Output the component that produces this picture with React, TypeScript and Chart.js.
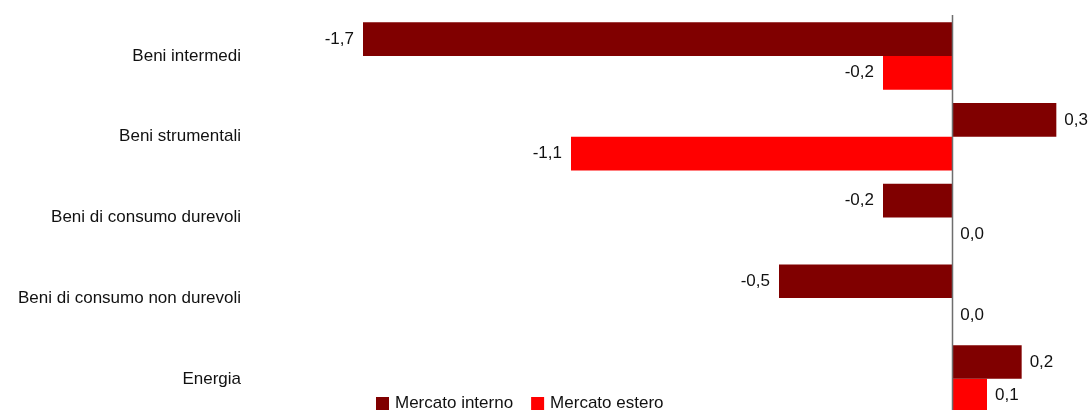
import React, { useEffect, useRef } from "react";
import { Chart, registerables } from "chart.js";

Chart.register(...registerables);

const categories = [
  "Beni intermedi",
  "Beni strumentali",
  "Beni di consumo durevoli",
  "Beni di consumo non durevoli",
  "Energia",
];
const mercatoInterno = [-1.7, 0.3, -0.2, -0.5, 0.2];
const mercatoEstero = [-0.2, -1.1, 0.0, 0.0, 0.1];
const seriesNames = ["Mercato interno", "Mercato estero"];
const seriesColors = ["#800000", "#FF0000"];
const xMin = -2.0;
const xMax = 0.4;

const FONT = '"Liberation Sans", Arial, sans-serif';

const zeroLinePlugin = {
  id: "zeroLine",
  afterDatasetsDraw(chart: any) {
    const { ctx, chartArea, scales } = chart;
    const x = Math.round(scales.x.getPixelForValue(0)) + 0.5;
    ctx.save();
    ctx.strokeStyle = "#6e6e6e";
    ctx.lineWidth = 1.5;
    ctx.beginPath();
    ctx.moveTo(x, chartArea.top - 0.5);
    ctx.lineTo(x, chartArea.bottom);
    ctx.stroke();
    ctx.restore();
  },
};

const valueLabelPlugin = {
  id: "valueLabels",
  afterDatasetsDraw(chart: any) {
    const { ctx } = chart;
    ctx.save();
    ctx.font = `17px ${FONT}`;
    ctx.fillStyle = "#111111";
    ctx.textBaseline = "middle";
    chart.data.datasets.forEach((ds: any, di: number) => {
      const meta = chart.getDatasetMeta(di);
      meta.data.forEach((el: any, i: number) => {
        const v = ds.data[i] as number;
        const txt = v.toFixed(1).replace(".", ",");
        if (v < 0) {
          ctx.textAlign = "right";
          ctx.fillText(txt, el.x - 9, el.y);
        } else {
          ctx.textAlign = "left";
          ctx.fillText(txt, el.x + 8, el.y);
        }
      });
    });
    ctx.restore();
  },
};

const legendPlugin = {
  id: "customLegend",
  afterDraw(chart: any) {
    const { ctx } = chart;
    ctx.save();
    ctx.font = `17px ${FONT}`;
    ctx.textBaseline = "middle";
    ctx.textAlign = "left";
    let x = 376;
    const y = 403.5;
    chart.data.datasets.forEach((ds: any) => {
      ctx.fillStyle = ds.backgroundColor;
      ctx.fillRect(x, y - 6.5, 13, 13);
      ctx.fillStyle = "#111111";
      ctx.fillText(ds.label, x + 19, y);
      x += 19 + ctx.measureText(ds.label).width + 18;
    });
    ctx.restore();
  },
};

export default function App() {
  const ref = useRef<HTMLCanvasElement | null>(null);

  useEffect(() => {
    if (!ref.current) return;
    const chart = new Chart(ref.current, {
      type: "bar",
      data: {
        labels: categories,
        datasets: [
          {
            label: seriesNames[0],
            data: mercatoInterno,
            backgroundColor: seriesColors[0],
            borderWidth: 0,
            categoryPercentage: 0.835,
            barPercentage: 1,
          },
          {
            label: seriesNames[1],
            data: mercatoEstero,
            backgroundColor: seriesColors[1],
            borderWidth: 0,
            categoryPercentage: 0.835,
            barPercentage: 1,
          },
        ],
      },
      options: {
        indexAxis: "y",
        animation: false,
        responsive: false,
        devicePixelRatio: 1,
        layout: { padding: { top: 15.6, bottom: 0.8, left: 0, right: 0 } },
        plugins: {
          legend: { display: false },
          tooltip: { enabled: false },
        },
        scales: {
          x: {
            display: false,
            min: xMin,
            max: xMax,
          },
          y: {
            grid: { display: false, drawTicks: false },
            border: { display: false },
            ticks: {
              font: { family: FONT, size: 17 },
              color: "#111111",
              padding: 18,
            },
            afterFit(scale: any) {
              scale.width = 259;
              scale.paddingTop = 0;
              scale.paddingBottom = 0;
            },
          },
        },
      },
      plugins: [zeroLinePlugin, valueLabelPlugin, legendPlugin],
    });
    return () => chart.destroy();
  }, []);

  return (
    <div
      style={{
        position: "fixed",
        left: 0,
        top: 0,
        width: 1091,
        height: 410,
        overflow: "hidden",
        background: "#ffffff",
      }}
    >
      <canvas ref={ref} width={1091} height={420} style={{ display: "block" }} />
    </div>
  );
}
